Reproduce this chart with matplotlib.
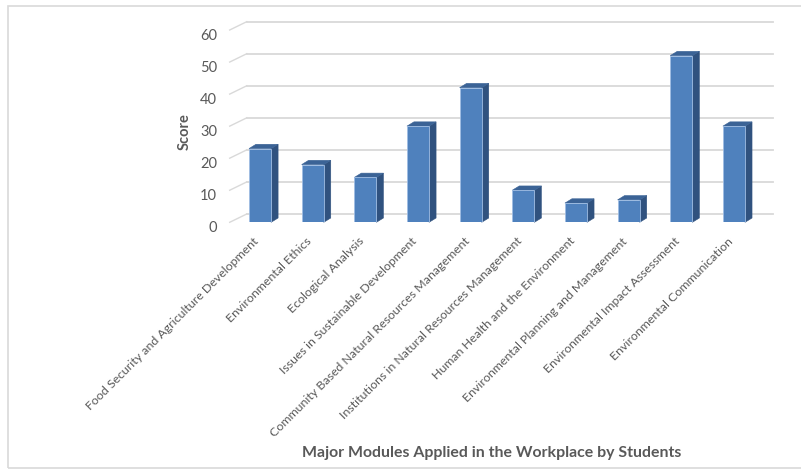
import matplotlib.pyplot as plt
from matplotlib.patches import Polygon, Rectangle
from matplotlib.transforms import ScaledTranslation

modules = ["Food Security and Agriculture Development", "Environmental Ethics",
           "Ecological Analysis", "Issues in Sustainable Development",
           "Community Based Natural Resources Management",
           "Institutions in Natural Resources Management",
           "Human Health and the Environment",
           "Environmental Planning and Management",
           "Environmental Impact Assessment", "Environmental Communication"]
scores = [23, 18, 14, 30, 42, 10, 6, 7, 52, 30]
yticks = [0, 10, 20, 30, 40, 50, 60]

plt.rcParams['font.family'] = ['Lato', 'DejaVu Sans']
txt_col = '#595959'
grid_col = '#d9d9d9'
front_col = '#4f81bd'
side_col = '#30527f'
top_col = '#3b6396'

W, H = 801, 469
fig = plt.figure(figsize=(W / 100, H / 100), dpi=100)
# front plane of the 3d box, in pixels
x0, x1 = 233.7, 760.3
yb, yt = 222.3, 30.0
ax = fig.add_axes([x0 / W, 1 - yb / H, (x1 - x0) / W, (yb - yt) / H])
ax.set_xlim(-0.5, len(scores) - 0.5)
ax.set_ylim(0, 60)
for s in ax.spines.values():
    s.set_visible(False)

# pixel -> data conversion for depth offsets
px_x = (len(scores)) / (x1 - x0)
px_y = 60 / (yb - yt)
wall_dx, wall_dy = 13 * px_x, 8.3 * px_y
bar_dx, bar_dy = 7 * px_x, 4.3 * px_y

# back wall gridlines and side wall lines
xl, xr = -0.5, len(scores) - 0.5
for v in yticks:
    ax.plot([xl + wall_dx, xr + wall_dx], [v + wall_dy, v + wall_dy],
            color=grid_col, lw=1.3, clip_on=False, zorder=1)
    ax.plot([xl - 4 * px_x, xl + wall_dx], [v, v + wall_dy],
            color=grid_col, lw=1.0, clip_on=False, zorder=1)

bw = 0.42
xs = list(range(len(scores)))
ax.bar(xs, scores, width=bw, color=front_col, edgecolor='#9fbde3',
       linewidth=0.6, zorder=3)
for x, v in zip(xs, scores):
    r = x + bw / 2
    l = x - bw / 2
    side = [(r, 0), (r + bar_dx, bar_dy), (r + bar_dx, v + bar_dy), (r, v)]
    top = [(l, v), (r, v), (r + bar_dx, v + bar_dy), (l + bar_dx, v + bar_dy)]
    ax.add_patch(Polygon(side, closed=True, fc=side_col, ec=side_col,
                         lw=0.4, zorder=2, clip_on=False))
    ax.add_patch(Polygon(top, closed=True, fc=top_col, ec=top_col,
                         lw=0.4, zorder=2, clip_on=False))

ax.set_yticks(yticks)
ax.tick_params(axis='y', length=0, pad=12, labelsize=10.5, labelcolor=txt_col)
for lbl in ax.get_yticklabels():
    lbl.set_transform(lbl.get_transform() + ScaledTranslation(0, -4 / 100, fig.dpi_scale_trans))

ax.set_xticks(xs)
ax.set_xticklabels(modules, rotation=45, ha='right', va='center',
                   rotation_mode='anchor', fontsize=8.9, color=txt_col)
ax.tick_params(axis='x', length=0, pad=13)
for lbl in ax.get_xticklabels():
    lbl.set_transform(lbl.get_transform() + ScaledTranslation(-3 / 100, 1 / 100, fig.dpi_scale_trans))

fig.text(185 / W, 1 - 132 / H, "Score", rotation=90, ha='center', va='center',
         fontsize=10.5, fontweight='bold', color=txt_col)
fig.text(492 / W, 1 - 453 / H, "Major Modules Applied in the Workplace by Students",
         ha='center', va='center', fontsize=11.4, fontweight='bold', color=txt_col)

fig.add_artist(Rectangle((8 / W, 1.5 / H), (W + 10) / W, (H - 6 - 1.5) / H,
                         transform=fig.transFigure, fill=False, ec=grid_col, lw=1.2))

fig.savefig("out.png", dpi=100)
